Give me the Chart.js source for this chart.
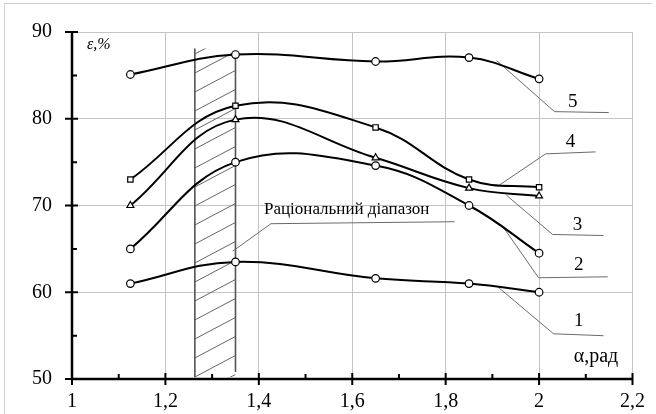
<!DOCTYPE html>
<html>
<head>
<meta charset="utf-8">
<script src="https://cdn.jsdelivr.net/npm/chart.js@4/dist/chart.umd.min.js"></script>
<style>
  html, body { margin: 0; padding: 0; background: #fff; }
  #wrap { width: 656px; height: 414px; position: relative; }
</style>
</head>
<body>
<div id="wrap"><canvas id="chart" width="656" height="414"></canvas></div>
<script>
// кути (рад) в яких проводились виміри
const alpha = [1.125, 1.35, 1.65, 1.85, 2.0];

// ефективність, % для кривих 1..5
const curve1 = [61, 63.5, 61.6, 61, 60];
const curve2 = [65, 75, 74.6, 70, 64.5];
const curve3 = [70, 79.9, 75.5, 72, 71.1];
const curve4 = [73, 81.5, 79, 73, 72.1];
const curve5 = [85.1, 87.4, 86.6, 87.05, 84.6];

const xTicks = [1, 1.2, 1.4, 1.6, 1.8, 2, 2.2];
const yTicks = [50, 60, 70, 80, 90];

// раціональний діапазон (заштрихована смуга)
const bandFrom = 1.263;
const bandTo = 1.35;
const bandLeftY = [50.2, 88.1];
const bandRightY = [50.8, 87.5];

// виноски: точки ламаної та позиція підпису
const callouts = [
  { text: "1", pts: [[1.911, 60.65], [2.031, 55.21], [2.138, 54.99]], at: [2.085, 56.7] },
  { text: "2", pts: [[1.924, 67.45], [1.999, 61.67], [2.147, 61.78]], at: [2.085, 63.1] },
  { text: "3", pts: [[1.930, 71.19], [2.029, 66.66], [2.138, 66.54]], at: [2.082, 67.8] },
  { text: "4", pts: [[1.911, 72.21], [2.014, 75.95], [2.121, 76.18]], at: [2.067, 77.3] },
  { text: "5", pts: [[1.909, 86.71], [2.033, 80.82], [2.149, 80.71]], at: [2.072, 81.95] },
];
const rangeLabel = { text: "Раціональний діапазон", pts: [[1.344, 64.73], [1.426, 67.9], [1.819, 68.13]], at: [1.411, 69.0] };

const serif = "'Liberation Serif', 'DejaVu Serif', serif";

function series(values, style) {
  return {
    data: alpha.map((a, i) => ({ x: a, y: values[i] })),
    showLine: true,
    borderColor: "#000",
    borderWidth: 2,
    tension: 0.4,
    pointStyle: style,
    pointRadius: style === "triangle" ? 4 : 3.8,
    pointBorderWidth: 1.2,
    pointBackgroundColor: "#fff",
    pointBorderColor: "#000",
  };
}

const decor = {
  id: "decor",
  beforeDatasetsDraw(chart) {
    const { ctx, scales: { x, y } } = chart;
    const xl = x.getPixelForValue(bandFrom);
    const xr = x.getPixelForValue(bandTo);
    const top = y.getPixelForValue(bandLeftY[1]);
    const bottom = y.getPixelForValue(bandLeftY[0]);

    // штрихування
    ctx.save();
    ctx.beginPath();
    ctx.rect(xl, top, xr - xl, bottom - top);
    ctx.clip();
    ctx.strokeStyle = "#666";
    ctx.lineWidth = 1;
    const w = xr - xl;
    for (let y0 = 358 + 19 * 2; y0 > top - 10; y0 -= 19) {
      ctx.beginPath();
      ctx.moveTo(xl, y0);
      ctx.lineTo(xr, y0 - 0.53 * w);
      ctx.stroke();
    }
    ctx.restore();

    ctx.save();
    ctx.strokeStyle = "#555";
    ctx.lineWidth = 1.6;
    ctx.beginPath();
    ctx.moveTo(xl, y.getPixelForValue(bandLeftY[0]));
    ctx.lineTo(xl, y.getPixelForValue(bandLeftY[1]));
    ctx.moveTo(xr, y.getPixelForValue(bandRightY[0]));
    ctx.lineTo(xr, y.getPixelForValue(bandRightY[1]));
    ctx.stroke();

    // виноски
    ctx.strokeStyle = "#6a6a6a";
    ctx.lineWidth = 1;
    [...callouts, rangeLabel].forEach(c => {
      ctx.beginPath();
      c.pts.forEach((p, i) => {
        const px = x.getPixelForValue(p[0]);
        const py = y.getPixelForValue(p[1]);
        if (i === 0) ctx.moveTo(px, py); else ctx.lineTo(px, py);
      });
      ctx.stroke();
    });
    ctx.restore();
  },
  afterDraw(chart) {
    const { ctx, scales: { x, y }, chartArea } = chart;
    ctx.save();
    // рамка сторінки
    ctx.strokeStyle = "#cfcfcf";
    ctx.lineWidth = 1;
    ctx.beginPath();
    ctx.moveTo(4.5, 414);
    ctx.lineTo(4.5, 3.5);
    ctx.lineTo(652, 3.5);
    ctx.stroke();

    // осі
    ctx.strokeStyle = "#000";
    ctx.lineWidth = 2.5;
    ctx.beginPath();
    ctx.moveTo(chartArea.left, chartArea.top);
    ctx.lineTo(chartArea.left, chartArea.bottom);
    ctx.lineTo(chartArea.right, chartArea.bottom);
    ctx.stroke();

    ctx.lineWidth = 2;
    ctx.beginPath();
    yTicks.forEach(v => {
      const py = y.getPixelForValue(v);
      ctx.moveTo(chartArea.left - 7, py);
      ctx.lineTo(chartArea.left + 6, py);
    });
    for (let v = 55; v < 90; v += 10) {
      const py = y.getPixelForValue(v);
      ctx.moveTo(chartArea.left, py);
      ctx.lineTo(chartArea.left + 5, py);
    }
    xTicks.forEach(v => {
      const px = x.getPixelForValue(v);
      ctx.moveTo(px, chartArea.bottom - 6);
      ctx.lineTo(px, chartArea.bottom + 6);
    });
    for (let v = 1.1; v < 2.2; v += 0.2) {
      const px = x.getPixelForValue(v);
      ctx.moveTo(px, chartArea.bottom);
      ctx.lineTo(px, chartArea.bottom - 5);
    }
    ctx.stroke();

    // підписи
    ctx.fillStyle = "#000";
    ctx.textBaseline = "middle";
    ctx.textAlign = "center";
    ctx.font = "19px " + serif;
    callouts.forEach(c => {
      ctx.fillText(c.text, x.getPixelForValue(c.at[0]), y.getPixelForValue(c.at[1]));
    });
    ctx.textAlign = "left";
    ctx.textBaseline = "alphabetic";
    ctx.font = "17px " + serif;
    ctx.fillText(rangeLabel.text, x.getPixelForValue(rangeLabel.at[0]), y.getPixelForValue(rangeLabel.at[1]));
    ctx.font = "20px " + serif;
    ctx.fillText("α,рад", x.getPixelForValue(2.074), y.getPixelForValue(51.95));
    ctx.font = "italic 16px " + serif;
    ctx.fillText("ε,%", 87, 49);
    ctx.restore();
  },
};

const fmt = v => String(Number(v.toFixed(1))).replace(".", ",");

new Chart(document.getElementById("chart"), {
  type: "scatter",
  data: {
    datasets: [
      series(curve1, "circle"),
      series(curve2, "circle"),
      series(curve3, "triangle"),
      series(curve4, "rect"),
      series(curve5, "circle"),
    ],
  },
  options: {
    responsive: false,
    animation: false,
    layout: { padding: { top: 26, right: 23, left: 0, bottom: 0 } },
    plugins: { legend: { display: false }, tooltip: { enabled: false } },
    scales: {
      x: {
        type: "linear",
        min: 1,
        max: 2.2,
        afterFit: s => { s.height = 35; },
        afterBuildTicks: s => { s.ticks = xTicks.map(v => ({ value: v })); },
        ticks: { callback: fmt, padding: 11, color: "#000", font: { family: serif, size: 20 }, maxRotation: 0 },
        grid: { color: "#c4c4c4", lineWidth: 1, drawTicks: false },
        border: { display: false },
      },
      y: {
        min: 50,
        max: 90,
        afterFit: s => { s.width = 72; },
        afterBuildTicks: s => { s.ticks = yTicks.map(v => ({ value: v })); },
        ticks: { padding: 20, color: "#000", font: { family: serif, size: 20 } },
        grid: { color: "#c4c4c4", lineWidth: 1, drawTicks: false },
        border: { display: false },
      },
    },
  },
  plugins: [decor],
});
</script>
</body>
</html>
